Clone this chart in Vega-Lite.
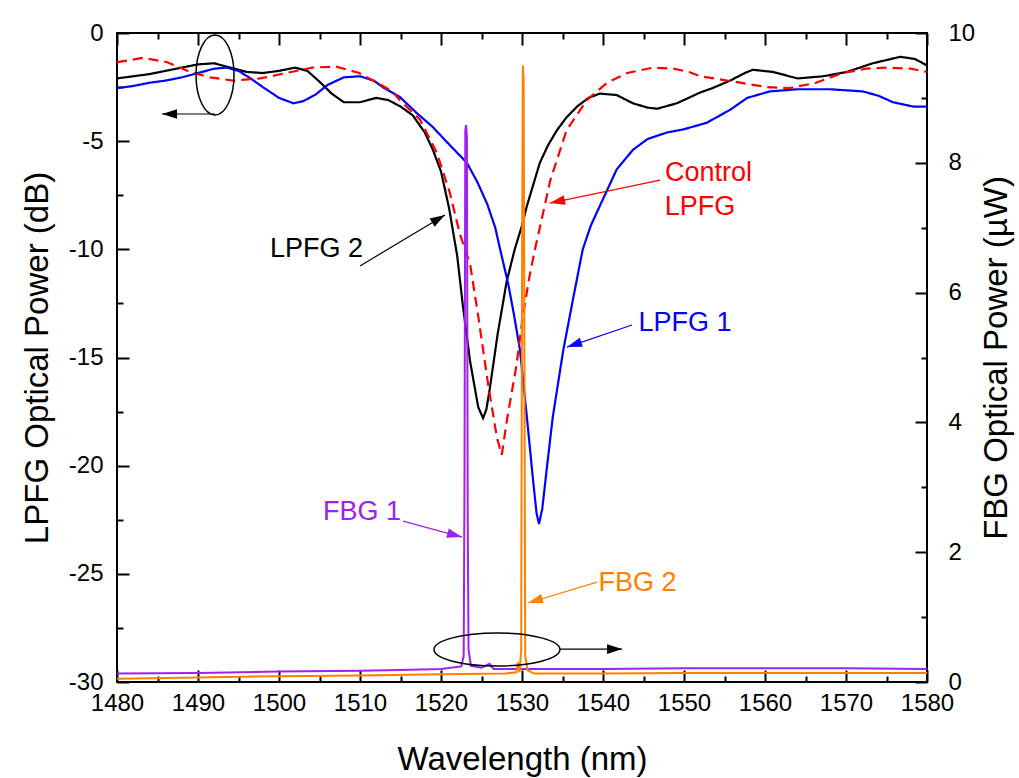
{
  "$schema": "https://vega.github.io/schema/vega-lite/v6.json",
  "width": 810,
  "height": 649,
  "autosize": {"type": "none"},
  "padding": {"left": 117, "top": 33, "right": 92, "bottom": 96},
  "background": "white",
  "config": {
    "view": {"stroke": "black", "strokeWidth": 2},
    "font": "Liberation Sans",
    "axis": {
      "labelFont": "Liberation Sans", "titleFont": "Liberation Sans",
      "labelColor": "black", "titleColor": "black", "tickColor": "black",
      "grid": false, "domain": false, "labelFlush": false, "labelOverlap": false,
      "labelBound": false, "titleFontWeight": "normal", "labelFontSize": 24, "titleFontSize": 33,
      "tickWidth": 2, "labelExpr": "toString(datum.value)"
    }
  },
  "datasets": {
    "frame": [{"wl": 1480, "dB": -30, "uW": 0}, {"wl": 1580, "dB": 0, "uW": 10}],
    "lpfg": [
      {"s":"LPFG 2","wl":1480,"dB":-2.1},{"s":"LPFG 2","wl":1482,"dB":-2.0},{"s":"LPFG 2","wl":1484,"dB":-1.9},{"s":"LPFG 2","wl":1486,"dB":-1.75},{"s":"LPFG 2","wl":1488,"dB":-1.6},{"s":"LPFG 2","wl":1490,"dB":-1.45},{"s":"LPFG 2","wl":1492,"dB":-1.4},{"s":"LPFG 2","wl":1494,"dB":-1.6},{"s":"LPFG 2","wl":1496,"dB":-1.8},{"s":"LPFG 2","wl":1498,"dB":-1.85},{"s":"LPFG 2","wl":1500,"dB":-1.75},{"s":"LPFG 2","wl":1502,"dB":-1.6},{"s":"LPFG 2","wl":1503.5,"dB":-1.75},{"s":"LPFG 2","wl":1505,"dB":-2.25},{"s":"LPFG 2","wl":1506.5,"dB":-2.8},{"s":"LPFG 2","wl":1508,"dB":-3.2},{"s":"LPFG 2","wl":1510,"dB":-3.2},{"s":"LPFG 2","wl":1512,"dB":-3.0},{"s":"LPFG 2","wl":1513.5,"dB":-3.1},{"s":"LPFG 2","wl":1515,"dB":-3.4},{"s":"LPFG 2","wl":1516.5,"dB":-3.8},{"s":"LPFG 2","wl":1518,"dB":-4.6},{"s":"LPFG 2","wl":1519,"dB":-5.4},{"s":"LPFG 2","wl":1520,"dB":-6.4},{"s":"LPFG 2","wl":1521,"dB":-8.1},{"s":"LPFG 2","wl":1522,"dB":-10.3},{"s":"LPFG 2","wl":1522.7,"dB":-12.6},{"s":"LPFG 2","wl":1523.6,"dB":-15.2},{"s":"LPFG 2","wl":1524.6,"dB":-17.3},{"s":"LPFG 2","wl":1525.2,"dB":-17.8},{"s":"LPFG 2","wl":1525.6,"dB":-17.4},{"s":"LPFG 2","wl":1526.0,"dB":-16.5},{"s":"LPFG 2","wl":1527.0,"dB":-13.9},{"s":"LPFG 2","wl":1528.1,"dB":-11.5},{"s":"LPFG 2","wl":1529.1,"dB":-10.0},{"s":"LPFG 2","wl":1530.0,"dB":-8.9},{"s":"LPFG 2","wl":1530.6,"dB":-8.0},{"s":"LPFG 2","wl":1531.4,"dB":-7.0},{"s":"LPFG 2","wl":1532.2,"dB":-6.0},{"s":"LPFG 2","wl":1533.2,"dB":-5.2},{"s":"LPFG 2","wl":1534.3,"dB":-4.5},{"s":"LPFG 2","wl":1535.5,"dB":-3.9},{"s":"LPFG 2","wl":1536.8,"dB":-3.4},{"s":"LPFG 2","wl":1538.2,"dB":-3.0},{"s":"LPFG 2","wl":1539.6,"dB":-2.8},{"s":"LPFG 2","wl":1541.7,"dB":-2.87},{"s":"LPFG 2","wl":1543.7,"dB":-3.25},{"s":"LPFG 2","wl":1545.5,"dB":-3.45},{"s":"LPFG 2","wl":1546.7,"dB":-3.5},{"s":"LPFG 2","wl":1549.1,"dB":-3.25},{"s":"LPFG 2","wl":1552,"dB":-2.75},{"s":"LPFG 2","wl":1553.5,"dB":-2.55},{"s":"LPFG 2","wl":1555.7,"dB":-2.2},{"s":"LPFG 2","wl":1557.5,"dB":-1.85},{"s":"LPFG 2","wl":1558.5,"dB":-1.7},{"s":"LPFG 2","wl":1561,"dB":-1.8},{"s":"LPFG 2","wl":1564,"dB":-2.1},{"s":"LPFG 2","wl":1567.2,"dB":-2.0},{"s":"LPFG 2","wl":1570.1,"dB":-1.8},{"s":"LPFG 2","wl":1573.3,"dB":-1.4},{"s":"LPFG 2","wl":1575,"dB":-1.25},{"s":"LPFG 2","wl":1576.7,"dB":-1.1},{"s":"LPFG 2","wl":1578.5,"dB":-1.2},{"s":"LPFG 2","wl":1580,"dB":-1.5},
      {"s":"LPFG 1","wl":1480,"dB":-2.55},{"s":"LPFG 1","wl":1482,"dB":-2.45},{"s":"LPFG 1","wl":1484,"dB":-2.3},{"s":"LPFG 1","wl":1486,"dB":-2.2},{"s":"LPFG 1","wl":1488,"dB":-2.05},{"s":"LPFG 1","wl":1490,"dB":-1.85},{"s":"LPFG 1","wl":1492,"dB":-1.65},{"s":"LPFG 1","wl":1493.5,"dB":-1.6},{"s":"LPFG 1","wl":1495,"dB":-1.75},{"s":"LPFG 1","wl":1496.5,"dB":-2.1},{"s":"LPFG 1","wl":1498,"dB":-2.5},{"s":"LPFG 1","wl":1500,"dB":-3.0},{"s":"LPFG 1","wl":1501.8,"dB":-3.25},{"s":"LPFG 1","wl":1503,"dB":-3.15},{"s":"LPFG 1","wl":1504.5,"dB":-2.85},{"s":"LPFG 1","wl":1506,"dB":-2.4},{"s":"LPFG 1","wl":1508,"dB":-2.05},{"s":"LPFG 1","wl":1510,"dB":-2.0},{"s":"LPFG 1","wl":1511.7,"dB":-2.2},{"s":"LPFG 1","wl":1513,"dB":-2.55},{"s":"LPFG 1","wl":1514.9,"dB":-2.95},{"s":"LPFG 1","wl":1517,"dB":-3.7},{"s":"LPFG 1","wl":1519,"dB":-4.35},{"s":"LPFG 1","wl":1521,"dB":-5.15},{"s":"LPFG 1","wl":1523.2,"dB":-6.0},{"s":"LPFG 1","wl":1524.5,"dB":-6.9},{"s":"LPFG 1","wl":1525.7,"dB":-7.9},{"s":"LPFG 1","wl":1526.7,"dB":-9.0},{"s":"LPFG 1","wl":1527.3,"dB":-10.0},{"s":"LPFG 1","wl":1528.3,"dB":-11.6},{"s":"LPFG 1","wl":1529.0,"dB":-13.0},{"s":"LPFG 1","wl":1529.75,"dB":-14.65},{"s":"LPFG 1","wl":1530.6,"dB":-17.75},{"s":"LPFG 1","wl":1531.4,"dB":-20.8},{"s":"LPFG 1","wl":1531.8,"dB":-22.2},{"s":"LPFG 1","wl":1532.1,"dB":-22.7},{"s":"LPFG 1","wl":1532.5,"dB":-22.0},{"s":"LPFG 1","wl":1533.1,"dB":-20.0},{"s":"LPFG 1","wl":1533.8,"dB":-17.75},{"s":"LPFG 1","wl":1535.1,"dB":-14.65},{"s":"LPFG 1","wl":1536.3,"dB":-12.3},{"s":"LPFG 1","wl":1537.5,"dB":-10.0},{"s":"LPFG 1","wl":1538.5,"dB":-8.9},{"s":"LPFG 1","wl":1539.6,"dB":-8.0},{"s":"LPFG 1","wl":1541.7,"dB":-6.3},{"s":"LPFG 1","wl":1543.7,"dB":-5.4},{"s":"LPFG 1","wl":1545.5,"dB":-4.9},{"s":"LPFG 1","wl":1547.9,"dB":-4.6},{"s":"LPFG 1","wl":1550,"dB":-4.45},{"s":"LPFG 1","wl":1552.8,"dB":-4.15},{"s":"LPFG 1","wl":1555.7,"dB":-3.55},{"s":"LPFG 1","wl":1557.8,"dB":-3.0},{"s":"LPFG 1","wl":1560.6,"dB":-2.7},{"s":"LPFG 1","wl":1564,"dB":-2.6},{"s":"LPFG 1","wl":1568,"dB":-2.6},{"s":"LPFG 1","wl":1572.1,"dB":-2.7},{"s":"LPFG 1","wl":1574,"dB":-2.9},{"s":"LPFG 1","wl":1575.8,"dB":-3.2},{"s":"LPFG 1","wl":1578.3,"dB":-3.4},{"s":"LPFG 1","wl":1580,"dB":-3.4},
      {"s":"Control LPFG","wl":1480,"dB":-1.35},{"s":"Control LPFG","wl":1483.2,"dB":-1.15},{"s":"Control LPFG","wl":1486.2,"dB":-1.35},{"s":"Control LPFG","wl":1489,"dB":-1.8},{"s":"Control LPFG","wl":1491.5,"dB":-2.05},{"s":"Control LPFG","wl":1494.3,"dB":-2.2},{"s":"Control LPFG","wl":1497.7,"dB":-2.1},{"s":"Control LPFG","wl":1500.9,"dB":-1.85},{"s":"Control LPFG","wl":1504.1,"dB":-1.6},{"s":"Control LPFG","wl":1507.0,"dB":-1.55},{"s":"Control LPFG","wl":1509.9,"dB":-1.85},{"s":"Control LPFG","wl":1512.1,"dB":-2.3},{"s":"Control LPFG","wl":1514.0,"dB":-2.7},{"s":"Control LPFG","wl":1514.9,"dB":-3.1},{"s":"Control LPFG","wl":1517.4,"dB":-4.0},{"s":"Control LPFG","wl":1519.5,"dB":-5.55},{"s":"Control LPFG","wl":1521.1,"dB":-7.4},{"s":"Control LPFG","wl":1522.3,"dB":-9.25},{"s":"Control LPFG","wl":1523.6,"dB":-10.7},{"s":"Control LPFG","wl":1524.6,"dB":-13.1},{"s":"Control LPFG","wl":1525.8,"dB":-16.2},{"s":"Control LPFG","wl":1526.9,"dB":-18.7},{"s":"Control LPFG","wl":1527.5,"dB":-19.5},{"s":"Control LPFG","wl":1528.2,"dB":-17.75},{"s":"Control LPFG","wl":1529.3,"dB":-15.4},{"s":"Control LPFG","wl":1530.1,"dB":-13.1},{"s":"Control LPFG","wl":1530.9,"dB":-11.3},{"s":"Control LPFG","wl":1531.6,"dB":-10.0},{"s":"Control LPFG","wl":1532.2,"dB":-9.0},{"s":"Control LPFG","wl":1533.5,"dB":-6.8},{"s":"Control LPFG","wl":1535.5,"dB":-4.5},{"s":"Control LPFG","wl":1538.0,"dB":-3.1},{"s":"Control LPFG","wl":1540.5,"dB":-2.3},{"s":"Control LPFG","wl":1543.0,"dB":-1.85},{"s":"Control LPFG","wl":1546.2,"dB":-1.6},{"s":"Control LPFG","wl":1548.7,"dB":-1.65},{"s":"Control LPFG","wl":1550.6,"dB":-1.8},{"s":"Control LPFG","wl":1552.0,"dB":-2.0},{"s":"Control LPFG","wl":1556.2,"dB":-2.25},{"s":"Control LPFG","wl":1560.2,"dB":-2.5},{"s":"Control LPFG","wl":1563.0,"dB":-2.55},{"s":"Control LPFG","wl":1566.3,"dB":-2.3},{"s":"Control LPFG","wl":1569.6,"dB":-1.85},{"s":"Control LPFG","wl":1572.5,"dB":-1.65},{"s":"Control LPFG","wl":1575.0,"dB":-1.6},{"s":"Control LPFG","wl":1578.0,"dB":-1.65},{"s":"Control LPFG","wl":1580,"dB":-1.8}
    ],
    "fbg": [
      {"s":"FBG 1","wl":1480,"uW":0.13},{"s":"FBG 1","wl":1490,"uW":0.14},{"s":"FBG 1","wl":1500,"uW":0.16},{"s":"FBG 1","wl":1510,"uW":0.175},{"s":"FBG 1","wl":1515,"uW":0.185},{"s":"FBG 1","wl":1520,"uW":0.2},{"s":"FBG 1","wl":1522.5,"uW":0.24},{"s":"FBG 1","wl":1522.8,"uW":0.4},{"s":"FBG 1","wl":1522.9,"uW":3.0},{"s":"FBG 1","wl":1523.0,"uW":8.5},{"s":"FBG 1","wl":1523.1,"uW":8.58},{"s":"FBG 1","wl":1523.2,"uW":8.4},{"s":"FBG 1","wl":1523.3,"uW":2.5},{"s":"FBG 1","wl":1523.4,"uW":0.5},{"s":"FBG 1","wl":1523.7,"uW":0.25},{"s":"FBG 1","wl":1525,"uW":0.22},{"s":"FBG 1","wl":1526,"uW":0.28},{"s":"FBG 1","wl":1526.5,"uW":0.2},{"s":"FBG 1","wl":1530,"uW":0.2},{"s":"FBG 1","wl":1540,"uW":0.2},{"s":"FBG 1","wl":1550,"uW":0.21},{"s":"FBG 1","wl":1560,"uW":0.21},{"s":"FBG 1","wl":1570,"uW":0.21},{"s":"FBG 1","wl":1580,"uW":0.2},
      {"s":"FBG 2","wl":1480,"uW":0.05},{"s":"FBG 2","wl":1490,"uW":0.07},{"s":"FBG 2","wl":1500,"uW":0.09},{"s":"FBG 2","wl":1510,"uW":0.1},{"s":"FBG 2","wl":1520,"uW":0.12},{"s":"FBG 2","wl":1528,"uW":0.13},{"s":"FBG 2","wl":1529.3,"uW":0.15},{"s":"FBG 2","wl":1529.5,"uW":0.3},{"s":"FBG 2","wl":1529.7,"uW":0.15},{"s":"FBG 2","wl":1529.9,"uW":0.5},{"s":"FBG 2","wl":1530.0,"uW":6.0},{"s":"FBG 2","wl":1530.1,"uW":9.5},{"s":"FBG 2","wl":1530.2,"uW":9.3},{"s":"FBG 2","wl":1530.3,"uW":5.0},{"s":"FBG 2","wl":1530.4,"uW":0.4},{"s":"FBG 2","wl":1530.7,"uW":0.18},{"s":"FBG 2","wl":1531.5,"uW":0.13},{"s":"FBG 2","wl":1540,"uW":0.13},{"s":"FBG 2","wl":1550,"uW":0.14},{"s":"FBG 2","wl":1560,"uW":0.14},{"s":"FBG 2","wl":1570,"uW":0.14},{"s":"FBG 2","wl":1580,"uW":0.14}
    ],
    "labels": [
      {"s":"LPFG 2","label":"LPFG 2","wl":1504.63,"dB":-9.99},
      {"s":"Control LPFG","label":"Control","wl":1553.02,"dB":-6.47},
      {"s":"Control LPFG","label":"LPFG","wl":1551.98,"dB":-8.04},
      {"s":"LPFG 1","label":"LPFG 1","wl":1550.12,"dB":-13.41},
      {"s":"FBG 1","label":"FBG 1","wl":1510.25,"dB":-22.14},
      {"s":"FBG 2","label":"FBG 2","wl":1544.26,"dB":-25.42}
    ],
    "arrows": [
      {"s":"marker","wl":1492.10,"dB":-3.745,"wl2":1485.56,"dB2":-3.745,"heading":0},
      {"s":"LPFG 2","wl":1510.0,"dB":-10.77,"wl2":1520.49,"dB2":-8.41,"heading":149},
      {"s":"Control LPFG","wl":1547.04,"dB":-6.80,"wl2":1533.46,"dB2":-7.86,"heading":348.2},
      {"s":"LPFG 1","wl":1543.58,"dB":-13.50,"wl2":1535.56,"dB2":-14.52,"heading":341.3},
      {"s":"FBG 1","wl":1515.31,"dB":-22.56,"wl2":1522.59,"dB2":-23.30,"heading":195.2},
      {"s":"FBG 2","wl":1539.26,"dB":-25.38,"wl2":1530.74,"dB2":-26.35,"heading":343.1},
      {"s":"marker","wl":1534.69,"dB":-28.48,"wl2":1542.35,"dB2":-28.48,"heading":180}
    ],
    "ellipses": [
      {"id":"left","wl":1492.1,"dB":-1.94},
      {"id":"bottom","wl":1526.91,"dB":-28.50}
    ]
  },
  "resolve": {"scale": {"y": "independent"}, "axis": {"x": "independent", "y": "independent"}},
  "layer": [
    {
      "data": {"name": "lpfg"},
      "mark": {"type": "line", "strokeWidth": 2.2},
      "encoding": {
        "x": {"field": "wl", "type": "quantitative", "scale": {"domain": [1480, 1580], "nice": false, "zero": false},
          "axis": {"orient": "bottom", "values": [1480,1490,1500,1510,1520,1530,1540,1550,1560,1570,1580], "tickSize": -12, "labelPadding": 21, "title": "Wavelength (nm)", "titlePadding": 28}},
        "y": {"field": "dB", "type": "quantitative", "scale": {"domain": [-30, 0], "nice": false, "zero": false},
          "axis": {"orient": "left", "values": [-30,-25,-20,-15,-10,-5,0], "tickSize": -12, "labelPadding": 26, "title": "LPFG Optical Power (dB)", "titlePadding": 14}},
        "color": {"field": "s", "type": "nominal", "legend": null,
          "scale": {"domain": ["LPFG 1","LPFG 2","Control LPFG","FBG 1","FBG 2","marker"], "range": ["#0000ff","#000000","#ff0000","#a020f0","#ff8000","#000000"]}},
        "strokeDash": {"field": "s", "type": "nominal", "legend": null,
          "scale": {"domain": ["LPFG 1","LPFG 2","Control LPFG"], "range": [[1,0],[1,0],[10,6]]}}
      }
    },
    {
      "data": {"name": "frame"},
      "mark": {"type": "point", "opacity": 0},
      "encoding": {
        "x": {"field": "wl", "type": "quantitative", "scale": {"domain": [1480, 1580], "nice": false, "zero": false},
          "axis": {"orient": "bottom", "values": [1485,1495,1505,1515,1525,1535,1545,1555,1565,1575], "tickSize": -6, "labels": false, "title": null}},
        "y": {"field": "dB", "type": "quantitative", "scale": {"domain": [-30, 0], "nice": false, "zero": false},
          "axis": {"orient": "left", "values": [-27.5,-22.5,-17.5,-12.5,-7.5,-2.5], "tickSize": -6, "labels": false, "title": null}}
      }
    },
    {
      "data": {"name": "frame"},
      "mark": {"type": "point", "opacity": 0},
      "encoding": {
        "x": {"field": "wl", "type": "quantitative", "scale": {"domain": [1480, 1580], "nice": false, "zero": false},
          "axis": {"orient": "top", "values": [1480,1490,1500,1510,1520,1530,1540,1550,1560,1570,1580], "tickSize": -12, "labels": false, "title": null}},
        "y": {"field": "uW", "type": "quantitative", "scale": {"domain": [0, 10], "nice": false, "zero": false},
          "axis": {"orient": "right", "values": [1,3,5,7,9], "tickSize": -6, "labels": false, "title": null}}
      }
    },
    {
      "data": {"name": "frame"},
      "mark": {"type": "point", "opacity": 0},
      "encoding": {
        "x": {"field": "wl", "type": "quantitative", "scale": {"domain": [1480, 1580], "nice": false, "zero": false},
          "axis": {"orient": "top", "values": [1485,1495,1505,1515,1525,1535,1545,1555,1565,1575], "tickSize": -6, "labels": false, "title": null}}
      }
    },
    {
      "data": {"name": "fbg"},
      "mark": {"type": "line", "strokeWidth": 2},
      "encoding": {
        "x": {"field": "wl", "type": "quantitative", "scale": {"domain": [1480, 1580], "nice": false, "zero": false}, "axis": null},
        "y": {"field": "uW", "type": "quantitative", "scale": {"domain": [0, 10], "nice": false, "zero": false},
          "axis": {"orient": "right", "values": [0,2,4,6,8,10], "tickSize": -12, "labelPadding": 33, "title": "FBG Optical Power (µW)", "titleAngle": 270, "titleBaseline": "top", "titlePadding": 6}},
        "color": {"field": "s", "type": "nominal", "legend": null}
      }
    },
    {
      "data": {"name": "arrows"},
      "mark": {"type": "rule", "strokeWidth": 1.2},
      "encoding": {
        "x": {"field": "wl", "type": "quantitative", "scale": {"domain": [1480, 1580], "nice": false, "zero": false}, "axis": null},
        "x2": {"field": "wl2"},
        "y": {"field": "dB", "type": "quantitative", "scale": {"domain": [-30, 0], "nice": false, "zero": false}, "axis": null},
        "y2": {"field": "dB2"},
        "color": {"field": "s", "type": "nominal", "legend": null}
      }
    },
    {
      "data": {"name": "arrows"},
      "mark": {"type": "point", "shape": "M 0 0 L 1 -0.32 L 1 0.32 Z", "size": 900, "filled": true, "opacity": 1, "strokeWidth": 0},
      "encoding": {
        "x": {"field": "wl2", "type": "quantitative", "scale": {"domain": [1480, 1580], "nice": false, "zero": false}, "axis": null},
        "y": {"field": "dB2", "type": "quantitative", "scale": {"domain": [-30, 0], "nice": false, "zero": false}, "axis": null},
        "angle": {"field": "heading", "type": "quantitative", "scale": null},
        "color": {"field": "s", "type": "nominal", "legend": null}
      }
    },
    {
      "data": {"name": "ellipses"},
      "transform": [{"filter": "datum.id == 'left'"}],
      "mark": {"type": "point", "shape": "M -0.475 0 A 0.475 1 0 1 1 0.475 0 A 0.475 1 0 1 1 -0.475 0 Z", "size": 6400, "filled": false, "stroke": "black", "strokeWidth": 1.5, "opacity": 1},
      "encoding": {
        "x": {"field": "wl", "type": "quantitative", "scale": {"domain": [1480, 1580], "nice": false, "zero": false}, "axis": null},
        "y": {"field": "dB", "type": "quantitative", "scale": {"domain": [-30, 0], "nice": false, "zero": false}, "axis": null}
      }
    },
    {
      "data": {"name": "ellipses"},
      "transform": [{"filter": "datum.id == 'bottom'"}],
      "mark": {"type": "point", "shape": "M -1 0 A 1 0.262 0 1 1 1 0 A 1 0.262 0 1 1 -1 0 Z", "size": 15876, "filled": false, "stroke": "black", "strokeWidth": 1.5, "opacity": 1},
      "encoding": {
        "x": {"field": "wl", "type": "quantitative", "scale": {"domain": [1480, 1580], "nice": false, "zero": false}, "axis": null},
        "y": {"field": "dB", "type": "quantitative", "scale": {"domain": [-30, 0], "nice": false, "zero": false}, "axis": null}
      }
    },
    {
      "data": {"name": "labels"},
      "mark": {"type": "text", "fontSize": 27, "font": "Liberation Sans", "align": "center", "baseline": "middle"},
      "encoding": {
        "x": {"field": "wl", "type": "quantitative", "scale": {"domain": [1480, 1580], "nice": false, "zero": false}, "axis": null},
        "y": {"field": "dB", "type": "quantitative", "scale": {"domain": [-30, 0], "nice": false, "zero": false}, "axis": null},
        "text": {"field": "label"},
        "color": {"field": "s", "type": "nominal", "legend": null}
      }
    }
  ]
}
